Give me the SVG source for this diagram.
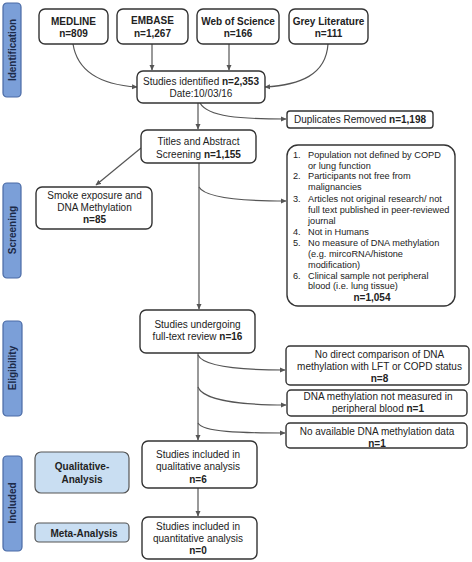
<svg xmlns="http://www.w3.org/2000/svg" width="472" height="562" viewBox="0 0 472 562">
<style>
text{font-family:"Liberation Sans",Arial,sans-serif;font-size:10px;fill:#222}
.b{font-weight:bold}
.box{fill:#fff;stroke:#333;stroke-width:1.4}
.lbl{fill:#7b9fd8;stroke:#4a6aa5;stroke-width:1.2}
.lt{fill:#c9def2;stroke:#555;stroke-width:1.2}
.side{font-weight:bold;font-size:10px;fill:#1c2a48}
.c{text-anchor:middle}
.ex{font-size:9.2px}
.con{fill:none;stroke:#555;stroke-width:1.2;marker-end:url(#ah)}
</style>
<defs>
<marker id="ah" markerWidth="6" markerHeight="6" refX="5" refY="3" orient="auto" markerUnits="userSpaceOnUse">
<path d="M0,0.5 L5.5,3 L0,5.5 z" fill="#555"/>
</marker>
</defs>

<g id="side-identification"><rect class="lbl" x="3" y="3" width="18" height="94" rx="4"/><text class="side c" transform="translate(15.5,50) rotate(-90)">Identification</text></g>
<g id="side-screening"><rect class="lbl" x="3" y="183" width="18" height="95" rx="4"/><text class="side c" transform="translate(15.5,230) rotate(-90)">Screening</text></g>
<g id="side-eligibility"><rect class="lbl" x="3" y="321" width="19" height="95" rx="4"/><text class="side c" transform="translate(16,368) rotate(-90)">Eligibility</text></g>
<g id="side-included"><rect class="lbl" x="3" y="456" width="19" height="95" rx="4"/><text class="side c" transform="translate(16,503) rotate(-90)">Included</text></g>

<g id="connectors">
<path class="con" d="M73,44 C78,75 105,85 137,87"/>
<path class="con" d="M152,44 L152,70"/>
<path class="con" d="M229,44 L229,70"/>
<path class="con" d="M328,44 C326,75 300,85 265,87"/>
<path class="con" d="M198,103 L198,129"/>
<path class="con" d="M200,103 C208,117 240,119 286,119"/>
<path class="con" d="M141,148 L96,185"/>
<path class="con" d="M199,163 L199,309"/>
<path class="con" d="M199,187 C205,198 240,201 286,201"/>
<path class="con" d="M198,353 L198,440"/>
<path class="con" d="M198,355 C203,366 240,370 285,370"/>
<path class="con" d="M198,387 C203,400 240,405 286,405"/>
<path class="con" d="M198,423 C203,432 240,433 285,433"/>
<path class="con" d="M198,488 L198,516"/>
</g>

<g id="medline"><rect class="box" x="39" y="9" width="69" height="35" rx="6"/><text class="b c" x="73.5" y="24.5">MEDLINE</text><text class="b c" x="73.5" y="37">n=809</text></g>
<g id="embase"><rect class="box" x="117" y="9" width="71" height="35" rx="6"/><text class="b c" x="152.5" y="24">EMBASE</text><text class="b c" x="152.5" y="37">n=1,267</text></g>
<g id="wos"><rect class="box" x="197" y="9" width="82" height="35" rx="6"/><text class="b c" x="238" y="24.5">Web of Science</text><text class="b c" x="238" y="37">n=166</text></g>
<g id="grey"><rect class="box" x="289" y="9" width="79" height="35" rx="6"/><text class="b c" x="328.5" y="24.5">Grey Literature</text><text class="b c" x="328.5" y="37">n=111</text></g>

<g id="identified"><rect class="box" x="137" y="71" width="128" height="32" rx="6"/><text class="c" x="201" y="84.5">Studies identified <tspan class="b">n=2,353</tspan></text><text class="c" x="201" y="96.5">Date:10/03/16</text></g>
<g id="duplicates"><rect class="box" x="287" y="111" width="146" height="17" rx="3"/><text class="c" x="360" y="123">Duplicates Removed <tspan class="b">n=1,198</tspan></text></g>

<g id="titles"><rect class="box" x="141" y="130" width="115" height="33" rx="6"/><text class="c" x="198.5" y="145">Titles and Abstract</text><text class="c" x="198.5" y="158">Screening <tspan class="b">n=1,155</tspan></text></g>
<g id="smoke"><rect class="box" x="36" y="187" width="116" height="42" rx="6"/><text class="c" x="94.5" y="199">Smoke exposure and</text><text class="c" x="94.5" y="211">DNA Methylation</text><text class="b c" x="94.5" y="223">n=85</text></g>

<g id="exclusions"><rect class="box" x="287" y="145" width="168" height="161" rx="11"/>
<text class="ex" x="293" y="157.5">1.</text><text class="ex" x="308" y="157.5">Population not defined by COPD</text>
<text class="ex" x="308" y="168.5">or lung function</text>
<text class="ex" x="293" y="179">2.</text><text class="ex" x="308" y="179">Participants not free from</text>
<text class="ex" x="308" y="190">malignancies</text>
<text class="ex" x="293" y="201.5">3.</text><text class="ex" x="308" y="201.5">Articles not original research/ not</text>
<text class="ex" x="308" y="212.5">full text published in peer-reviewed</text>
<text class="ex" x="308" y="223.5">journal</text>
<text class="ex" x="293" y="234.5">4.</text><text class="ex" x="308" y="234.5">Not in Humans</text>
<text class="ex" x="293" y="245.5">5.</text><text class="ex" x="308" y="245.5">No measure of DNA methylation</text>
<text class="ex" x="308" y="256.5">(e.g. mircoRNA/histone</text>
<text class="ex" x="308" y="268">modification)</text>
<text class="ex" x="293" y="279">6.</text><text class="ex" x="308" y="279">Clinical sample not peripheral</text>
<text class="ex" x="308" y="289">blood (i.e. lung tissue)</text>
<text class="b c" x="372" y="300.5">n=1,054</text>
</g>

<g id="fulltext"><rect class="box" x="140" y="310" width="115" height="43" rx="6"/><text class="c" x="197.5" y="328">Studies undergoing</text><text class="c" x="197.5" y="340">full-text review <tspan class="b">n=16</tspan></text></g>
<g id="nocomparison"><rect class="box" x="286" y="346" width="183" height="39" rx="4"/><text class="c" x="379.5" y="357.5">No direct comparison of DNA</text><text class="c" x="379.5" y="370">methylation with LFT or COPD status</text><text class="b c" x="379.5" y="382">n=8</text></g>
<g id="notblood"><rect class="box" x="287" y="390" width="180" height="26" rx="4"/><text class="c" x="378" y="400">DNA methylation not measured in</text><text class="c" x="378" y="412">peripheral blood <tspan class="b">n=1</tspan></text></g>
<g id="nodata"><rect class="box" x="286" y="423" width="181" height="25" rx="4"/><text class="c" x="377" y="435">No available DNA methylation data</text><text class="b c" x="377" y="447">n=1</text></g>

<g id="qual-label"><rect class="lt" x="35" y="452" width="94" height="41" rx="6"/><text class="b c" x="82" y="470">Qualitative-</text><text class="b c" x="82" y="482.5">Analysis</text></g>
<g id="meta-label"><rect class="lt" x="35" y="523" width="94" height="19" rx="4"/><text class="b c" x="84" y="536.5">Meta-Analysis</text></g>

<g id="qualitative"><rect class="box" x="142" y="441" width="115" height="47" rx="6"/><text class="c" x="198" y="458">Studies included in</text><text class="c" x="198" y="470">qualitative analysis</text><text class="b c" x="198" y="482.5">n=6</text></g>
<g id="quantitative"><rect class="box" x="142" y="517" width="115" height="42" rx="6"/><text class="c" x="198" y="530">Studies included in</text><text class="c" x="198" y="542">quantitative analysis</text><text class="b c" x="198" y="553.5">n=0</text></g>
</svg>
